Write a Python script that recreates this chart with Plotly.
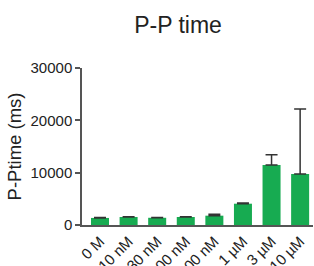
import plotly.graph_objects as go

categories = ["0 M", "10 nM", "30 nM", "100 nM", "300 nM", "1 µM", "3 µM", "10 µM"]
pp_time = [1350, 1530, 1380, 1530, 1780, 4070, 11470, 9750]
pp_err = [60, 60, 60, 60, 270, 130, 1970, 12430]

fig = go.Figure()
fig.add_trace(go.Bar(
    x=list(range(len(categories))), y=pp_time,
    marker=dict(color="#17AB51", line=dict(width=0)),
    width=0.63, cliponaxis=False,
    error_y=dict(type="data", array=pp_err, symmetric=False, arrayminus=[0]*len(pp_err),
                 color="#333333", thickness=1.5, width=6),
))
fig.update_layout(
    width=314, height=266,
    margin=dict(l=82, r=1, t=68, b=41, autoexpand=False),
    paper_bgcolor="white", plot_bgcolor="white",
    font=dict(family="Liberation Sans, Arial", color="#222222"),
    showlegend=False,
    title=dict(text="P-P time", x=0.567, xanchor="center", y=0.906, yanchor="middle",
               font=dict(size=23, color="#222222")),
)
fig.update_xaxes(
    range=[-0.63, 7.45], tickmode="array", tickvals=list(range(len(categories))),
    ticktext=categories, tickangle=-45, tickfont=dict(size=15), automargin=False,
    showline=True, linecolor="#555555", linewidth=1.5, ticks="", showgrid=False,
    zeroline=False,
)
fig.update_yaxes(
    range=[0, 30000], tickvals=[0, 10000, 20000, 30000], tickformat="d",
    tickfont=dict(size=15), automargin=False,
    showline=True, linecolor="#555555", linewidth=1.5, ticks="outside", ticklen=5,
    tickcolor="#555555", tickwidth=1.5, showgrid=False, zeroline=False,
    title=dict(text="P-Ptime (ms)", font=dict(size=18.5), standoff=4),
)
fig.write_html(
    "out.html",
    config={"displayModeBar": False},
    post_script="document.body.style.margin='0';document.body.style.overflow='hidden';",
)
